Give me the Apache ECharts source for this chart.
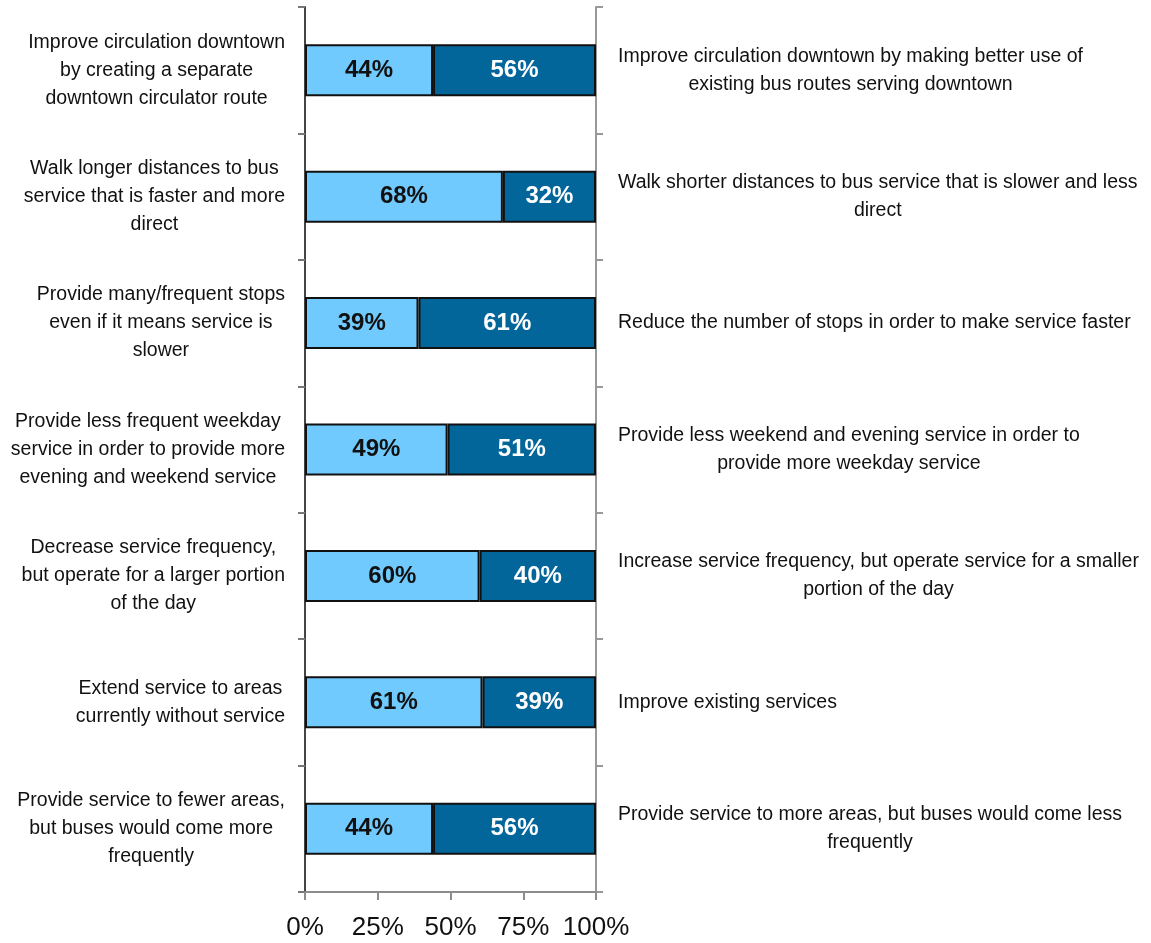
<!DOCTYPE html>
<html>
<head>
<meta charset="utf-8">
<script src="https://cdn.jsdelivr.net/npm/echarts@6/dist/echarts.min.js"></script>
<style>
  html, body { margin: 0; padding: 0; background: #fff; }
  #chart { width: 1151px; height: 943px; }
</style>
</head>
<body>
<div id="chart"></div>
<script>
// Paired service trade-offs: share choosing the left option vs. the right option
const leftOptions = [
  "Improve circulation downtown\nby creating a separate\ndowntown circulator route",
  "Walk longer distances to bus\nservice that is faster and more\ndirect",
  "Provide many/frequent stops\neven if it means service is\nslower",
  "Provide less frequent weekday\nservice in order to provide more\nevening and weekend service",
  "Decrease service frequency,\nbut operate for a larger portion\nof the day",
  "Extend service to areas\ncurrently without service",
  "Provide service to fewer areas,\nbut buses would come more\nfrequently"
];
const rightOptions = [
  "Improve circulation downtown by making better use of\nexisting bus routes serving downtown",
  "Walk shorter distances to bus service that is slower and less\ndirect",
  "Reduce the number of stops in order to make service faster",
  "Provide less weekend and evening service in order to\nprovide more weekday service",
  "Increase service frequency, but operate service for a smaller\nportion of the day",
  "Improve existing services",
  "Provide service to more areas, but buses would come less\nfrequently"
];
const leftShare = [44, 68, 39, 49, 60, 61, 44];
const rightShare = [56, 32, 61, 51, 40, 39, 56];
const xTicks = [0, 25, 50, 75, 100];

const FONT = '"Liberation Sans", Arial, Helvetica, sans-serif';

// wrap each line in a centred rich-text fragment so lines centre inside the label block
function centredLines(s) {
  return s.split('\n').map(l => '{c|' + l + '}').join('\n');
}
const richCentre = { c: { align: 'center', fontFamily: FONT, fontSize: 19.5, lineHeight: 28, color: '#111' } };

const chart = echarts.init(document.getElementById('chart'), null, { renderer: 'canvas' });
chart.setOption({
  backgroundColor: '#ffffff',
  animation: false,
  grid: { left: 305, right: 555, top: 7, bottom: 51, containLabel: false, outerBoundsMode: 'none' },
  xAxis: {
    type: 'value',
    min: xTicks[0],
    max: xTicks[xTicks.length - 1],
    interval: 25,
    axisLine: { show: true, lineStyle: { color: '#8c8c8c', width: 2 } },
    axisTick: { show: true, length: 8, lineStyle: { color: '#8c8c8c', width: 2 } },
    splitLine: { show: false },
    axisLabel: {
      margin: 23,
      hideOverlap: false,
      showMinLabel: true,
      showMaxLabel: true,
      fontFamily: FONT, fontSize: 26, color: '#111',
      formatter: v => v + '%'
    }
  },
  yAxis: [
    {
      type: 'category',
      data: leftOptions,
      inverse: true,
      position: 'left',
      axisLine: { show: true, lineStyle: { color: '#444', width: 2 } },
      axisTick: { show: true, length: 7, lineStyle: { color: '#777', width: 2 } },
      axisLabel: {
        margin: 20,
        formatter: v => centredLines(v),
        rich: richCentre
      }
    },
    {
      type: 'category',
      data: rightOptions,
      inverse: true,
      position: 'right',
      axisLine: { show: true, lineStyle: { color: '#999', width: 2 } },
      axisTick: { show: true, length: 7, lineStyle: { color: '#999', width: 2 } },
      axisLabel: {
        margin: 22,
        formatter: v => centredLines(v),
        rich: richCentre
      }
    }
  ],
  series: [
    {
      name: 'Left option',
      type: 'bar',
      stack: 'total',
      yAxisIndex: 0,
      barWidth: 52,
      data: leftShare,
      itemStyle: { color: '#70CAFE', borderColor: '#111', borderWidth: 2 },
      label: {
        show: true, position: 'inside',
        formatter: p => p.value + '%',
        fontFamily: FONT, fontWeight: 'bold', fontSize: 24, color: '#111'
      }
    },
    {
      name: 'Right option',
      type: 'bar',
      stack: 'total',
      yAxisIndex: 0,
      barWidth: 52,
      data: rightShare,
      itemStyle: { color: '#03669B', borderColor: '#111', borderWidth: 2 },
      label: {
        show: true, position: 'inside',
        formatter: p => p.value + '%',
        fontFamily: FONT, fontWeight: 'bold', fontSize: 24, color: '#ffffff'
      }
    }
  ]
});
</script>
</body>
</html>
